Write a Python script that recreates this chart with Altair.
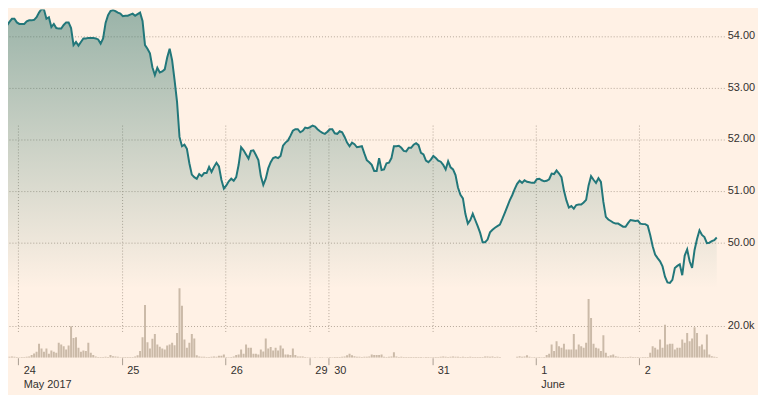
import altair as alt
import pandas as pd

# ---------------- data ----------------
SLOTS_PER_DAY = 42          # 42 samples per trading session
FIRST_SLOT_DAY = -0.156     # first sample, in sessions after the "24" marker

price = [
    54.18, 54.19, 54.20, 54.27, 54.33, 54.33, 54.26, 54.23, 54.23, 54.23,
    54.28, 54.30, 54.30, 54.31, 54.36, 54.45, 54.52, 54.51, 54.33, 54.36,
    54.17, 54.23, 54.15, 54.14, 54.14, 54.21, 54.26, 54.26, 54.15, 53.82,
    53.88, 53.81, 53.88, 53.95, 53.95, 53.96, 53.96, 53.96, 53.95, 53.93,
    53.85, 53.95, 54.25, 54.40, 54.48, 54.50, 54.48, 54.45, 54.43, 54.38,
    54.39, 54.39, 54.41, 54.43, 54.39, 54.42, 54.45, 54.29, 53.82, 53.75,
    53.66, 53.39, 53.24, 53.38, 53.29, 53.31, 53.35, 53.58, 53.75, 53.53,
    53.14, 52.72, 52.04, 51.86, 51.89, 51.81, 51.53, 51.31, 51.26, 51.23,
    51.32, 51.28, 51.34, 51.34, 51.46, 51.36, 51.46, 51.54, 51.47, 51.21,
    51.04, 51.10, 51.18, 51.23, 51.19, 51.26, 51.50, 51.84, 51.78, 51.70,
    51.62, 51.77, 51.78, 51.69, 51.59, 51.28, 51.11, 51.23, 51.43, 51.55,
    51.63, 51.65, 51.63, 51.67, 51.87, 51.93, 51.97, 52.06, 52.16, 52.19,
    52.19, 52.13, 52.16, 52.22, 52.21, 52.23, 52.26, 52.24, 52.19, 52.15,
    52.12, 52.10, 52.14, 52.19, 52.19, 52.11, 52.10, 52.15, 52.13, 52.04,
    51.93, 51.86, 51.93, 51.90, 51.84, 51.85, 51.86, 51.72, 51.59, 51.55,
    51.50, 51.38, 51.38, 51.63, 51.40, 51.41, 51.53, 51.54, 51.63, 51.86,
    51.86, 51.87, 51.83, 51.77, 51.76, 51.83, 51.83, 51.89, 51.92, 51.88,
    51.73, 51.70, 51.58, 51.55, 51.60, 51.67, 51.63, 51.58, 51.56, 51.50,
    51.41, 51.57, 51.45, 51.41, 51.30, 51.06, 50.92, 50.85, 50.55, 50.36,
    50.43, 50.55, 50.43, 50.31, 50.18, 50.00, 50.00, 50.05, 50.19, 50.24,
    50.28, 50.31, 50.34, 50.45, 50.57, 50.69, 50.81, 50.91, 51.03, 51.13,
    51.19, 51.15, 51.20, 51.17, 51.16, 51.15, 51.15, 51.22, 51.23, 51.20,
    51.18, 51.19, 51.22, 51.33, 51.32, 51.39, 51.33, 51.26, 51.00, 50.81,
    50.67, 50.70, 50.65, 50.72, 50.73, 50.73, 50.77, 50.82, 51.10, 51.28,
    51.21, 51.15, 51.24, 51.17, 50.78, 50.49, 50.44, 50.41, 50.38, 50.36,
    50.36, 50.33, 50.30, 50.30, 50.37, 50.43, 50.42, 50.41, 50.42, 50.36,
    50.35, 50.35, 50.32, 50.14, 49.92, 49.76, 49.69, 49.63, 49.53, 49.33,
    49.22, 49.21, 49.27, 49.50, 49.54, 49.57, 49.36, 49.74, 49.86, 49.63,
    49.50, 49.85, 50.06, 50.23, 50.14, 50.10, 49.98, 49.99, 50.02, 50.04,
    50.09,
]

# volume per sample, thousands of shares
volume_k = (
    [0.4, 0.4, 0.6, 0.6, 0.8, 0.6, 0.4, 0.3, 0.4, 0.4, 0.6, 0.8]
    + [1.7, 2.7, 3.75, 8.75, 5.8, 3.75, 5.8, 2.5, 4.6, 3.75,
       3.1, 9.4, 8.3, 7.3, 5.2, 7.7, 19.8, 12.5, 12.9, 6.25,
       3.75, 4.6, 4.2, 9.4, 3.1, 1.7, 0.8]
    + [0.5, 0.4, 0.5, 0.6, 0.5]
    + [1.7, 1.0, 0.8, 0.6]
    + [0.3, 0.4, 0.4, 0.5, 0.4, 0.5, 0.8]
    + [1.5, 4.2, 12.9, 33.3, 9.8, 5.8, 11.9, 15, 8.3, 6.9,
       5.8, 5.2, 7.7, 8.3, 9.4, 7.9, 15.6, 43.75, 32.7, 11.5,
       6.25, 9.4, 15, 12.1, 1.5]
    + [0.8, 0.6, 0.6, 0.5, 0.5, 0.6, 0.8, 0.6, 1.3, 1.3, 2.1]
    + [0.4, 0.3, 0.5, 0.8]
    + [1.7, 2.1, 5.2, 2.5, 8.3, 6.25, 6.25, 2.5, 2.5, 2.0,
       5.2, 4.0, 12.1, 5.8, 6.7, 4.6, 6.25, 4.6, 7.7, 5.8,
       2.1, 2.1, 1.7, 5.8, 1.7, 0.8, 0.8, 0.8, 0.4, 0.3]
    + [0.3, 0.2, 0.3, 0.2, 0.3, 0.3, 0.2, 0.3]
    + [0.4, 0.3, 0.4, 0.4, 0.5, 0.6, 0.8]
    + [1.5, 2.5, 1.5, 1.0, 0.6, 0.6, 0.4, 0.6, 0.6, 0.8,
       2.1, 1.7, 1.7, 1.7, 2.1, 0.6, 0.5, 0.6, 0.8, 3.5,
       0.8, 0.5, 0.6, 0.4, 0.5, 0.4, 0.4, 0.5, 0.4, 0.4,
       0.4, 0.3, 0.4, 0.4, 0.3]
    + [0.4, 0.4, 0.5, 0.6, 0.8, 0.6, 0.5, 0.6, 0.8, 0.6,
       0.6, 0.5, 0.6, 0.5, 0.5, 0.6, 0.5, 0.4, 0.5, 0.4,
       0.5, 0.8, 0.8, 0.6, 0.8, 0.5, 0.6, 0.4]
    + [0, 0, 0, 0, 0, 0]
    + [0.6, 1.0, 0.6, 0.8, 1.5, 0.6]
    + [0.3, 0.4, 0.3, 0.4, 0.3, 0.4]
    + [1.7, 2.5, 8.3, 4.2, 10.4, 7.3, 6.25, 8.75, 5.2, 5.2,
       5.2, 15, 5.2, 8.3, 7.3, 6.25, 9.4, 37, 25, 8.75,
       6.25, 5.8, 4.2, 14.2, 3.1, 1.0, 1.5, 2.1, 1.0]
    + [0.6, 0.4, 0.5, 0.4, 0.4, 0.6, 0.4, 0.5, 0.4, 0.3, 0.4, 0.4, 0.5]
    + [3.1, 7.3, 6.25, 5.2, 11.5, 6.25, 20.8, 8.3, 8.75, 8.75,
       5.2, 6.25, 6.25, 11.5, 9.4, 15.6, 10.4, 12.1, 19.2, 15.6,
       7.3, 8.3, 5.2, 14.6, 2.1, 1.0, 0.6, 0.4]
)

tick_days = [0, 1, 2, 2.818, 3, 4, 5, 6]
tick_day_labels = ["24", "25", "26", "29", "30", "31", "1", "2"]
tick_month_labels = ["May 2017", "", "", "", "", "", "June", ""]

price_ticks = [50, 51, 52, 53, 54]
volume_ticks = [20000]

# ---------------- table ----------------
n = min(len(price), len(volume_k))
df = pd.DataFrame({
    "t": [FIRST_SLOT_DAY + i / SLOTS_PER_DAY for i in range(n)],
    "price": price[:n],
    "volume": [v * 1000 for v in volume_k[:n]],
})

# label expression (day number, month underneath where it starts)
texts = []
for lab, mon in zip(tick_day_labels, tick_month_labels):
    texts.append(f"['{lab}', '{mon}']" if mon else f"'{lab}'")
expr = texts[-1]
for k in range(len(tick_days) - 2, -1, -1):
    mid = (tick_days[k] + tick_days[k + 1]) / 2
    expr = f"datum.value < {mid:.4f} ? {texts[k]} : ({expr})"

# ---------------- styles ----------------
BG = "#fff1e5"
LINE = "#22777a"
BAR = "#cbbaa8"
GRID = "#b5a799"
TEXT = "#33302e"
FONT = "Liberation Sans"

PLOT_W, PLOT_H = 722, 351

x_enc = alt.X(
    "t:Q",
    scale=alt.Scale(domain=[-0.0987, 6.8215], nice=False, zero=False, padding=0),
    axis=alt.Axis(
        values=tick_days, labelExpr=expr, title=None,
        grid=True, gridDash=[1, 2], gridColor=GRID,
        domain=False, ticks=True, tickSize=7, tickColor="#a99d91",
        labelAlign="left", labelBaseline="top", labelOffset=5, labelPadding=0,
        labelLineHeight=14, labelOverlap=False, labelFlush=False, labelBound=False,
    ),
)

price_scale = alt.Scale(domain=[50, 54], range=[234.5, 26.5], nice=False, zero=False, padding=0)

area = alt.Chart(df).mark_area(
    clip=True,
    interpolate="linear",
    color=alt.Gradient(
        gradient="linear",
        stops=[
            alt.GradientStop(color="rgba(40,110,100,0.47)", offset=0),
            alt.GradientStop(color="rgba(40,110,100,0.0)", offset=1),
        ],
        x1=1, x2=1, y1=0, y2=1,
    ),
).encode(
    x=x_enc,
    y=alt.Y(
        "price:Q", scale=price_scale,
        axis=alt.Axis(
            orient="right", values=price_ticks, format=".2f", title=None,
            grid=True, gridDash=[1, 2], gridColor=GRID,
            domain=False, ticks=False, tickSize=0, labelPadding=3,
            labelAlign="left", labelBaseline="middle",
        ),
    ),
    y2=alt.datum(49.1),
)

line = alt.Chart(df).mark_line(clip=True, color=LINE, strokeWidth=2).encode(
    x="t:Q",
    y=alt.Y("price:Q", scale=price_scale, axis=None),
)

bars = alt.Chart(df).mark_bar(clip=True, size=2, color=BAR).encode(
    x="t:Q",
    y=alt.Y(
        "volume:Q",
        scale=alt.Scale(domain=[0, 20000], range=[PLOT_H, PLOT_H - 32],
                        nice=False, zero=True, padding=0),
        axis=alt.Axis(
            orient="right", values=volume_ticks, format=".3s", title=None,
            grid=True, gridDash=[1, 2], gridColor=GRID,
            domain=False, ticks=False, tickSize=0, labelPadding=3,
            labelAlign="left", labelBaseline="middle",
        ),
    ),
)

chart = (
    alt.layer(area, line, bars)
    .resolve_scale(y="independent")
    .properties(
        width=PLOT_W, height=PLOT_H,
        autosize=alt.AutoSizeParams(type="none"),
        padding={"left": 0, "top": 0, "right": 34, "bottom": 36},
        background=BG,
    )
    .configure_view(stroke=None)
    .configure_axis(labelFont=FONT, labelFontSize=11, labelColor=TEXT)
)

chart.save("out.html", embed_options={"renderer": "svg", "actions": False})
